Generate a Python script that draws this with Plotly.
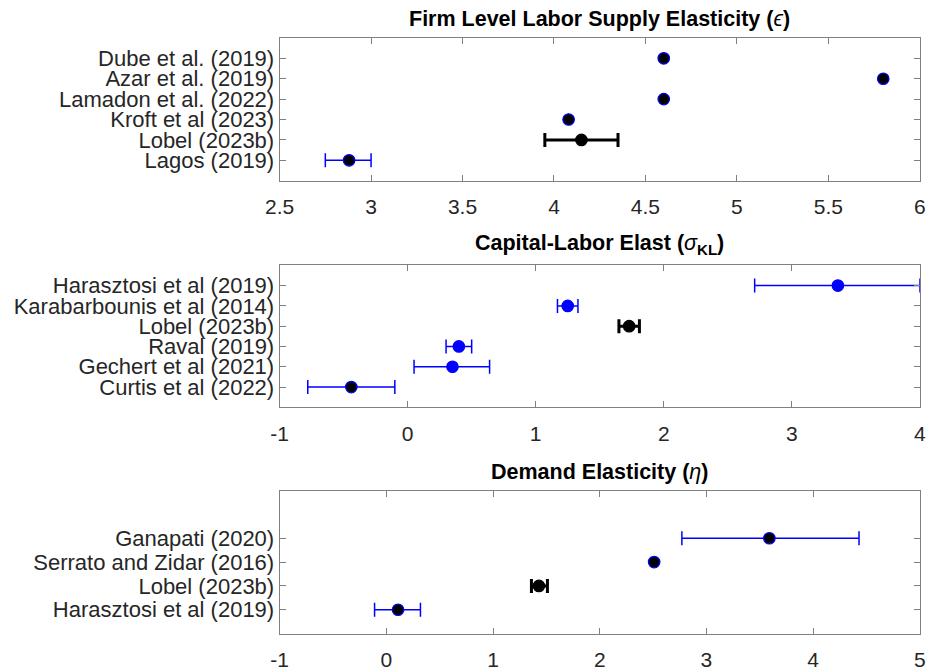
import plotly.graph_objects as go

# ---------------- data ----------------
p1_names = ["Dube et al. (2019)", "Azar et al. (2019)", "Lamadon et al. (2022)",
            "Kroft et al (2023)", "Lobel (2023b)", "Lagos (2019)"]
p1_est = [4.60, 5.80, 4.60, 4.08, 4.15, 2.88]
p1_lo = [None, None, None, None, 3.95, 2.75]
p1_hi = [None, None, None, None, 4.35, 3.00]
p1_style = ["edge", "edge", "edge", "edge", "own", "edge"]

p2_names = ["Harasztosi et al (2019)", "Karabarbounis et al (2014)", "Lobel (2023b)",
            "Raval (2019)", "Gechert et al (2021)", "Curtis et al (2022)"]
p2_est = [3.36, 1.25, 1.73, 0.40, 0.35, -0.44]
p2_lo = [2.71, 1.17, 1.65, 0.30, 0.05, -0.78]
p2_hi = [4.00, 1.33, 1.81, 0.50, 0.64, -0.10]
p2_style = ["blue", "blue", "own", "blue", "blue", "edge"]

p3_names = ["Ganapati (2020)", "Serrato and Zidar (2016)", "Lobel (2023b)", "Harasztosi et al (2019)"]
p3_est = [3.59, 2.51, 1.43, 0.11]
p3_lo = [2.77, None, 1.36, -0.11]
p3_hi = [4.43, None, 1.51, 0.32]
p3_style = ["edge", "edge", "own", "edge"]

x_ticks = [[2.5, 3, 3.5, 4, 4.5, 5, 5.5, 6], [-1, 0, 1, 2, 3, 4], [-1, 0, 1, 2, 3, 4, 5]]
x_ranges = [[2.5, 6], [-1, 4], [-1, 5]]
y_ranges = [[0, 7], [0, 7], [0, 6]]
titles = ["<b>Firm Level Labor Supply Elasticity (</b><i>ϵ</i><b>)</b>",
          "<b>Capital-Labor Elast (</b><i>σ</i><sub><b>KL</b></sub><b>)</b>",
          "<b>Demand Elasticity (</b><i>η</i><b>)</b>"]

# ---------------- layout geometry ----------------
W, H = 932, 671
xl, xr = 270.7, 925.7
panels_px = [(38.3, 182.3), (267.7, 411.0), (495.0, 639.3)]

BLUE = "#0000ff"
FRAME = "#808080"
FONT = "Liberation Sans, Arial, Helvetica, sans-serif"

fig = go.Figure()

panels = [(p1_names, p1_est, p1_lo, p1_hi, p1_style),
          (p2_names, p2_est, p2_lo, p2_hi, p2_style),
          (p3_names, p3_est, p3_lo, p3_hi, p3_style)]

layout_axes = {}
annotations = []
for i, (names, est, lo, hi, style) in enumerate(panels):
    n = len(names)
    pos = list(range(n, 0, -1))
    xa = "x" if i == 0 else f"x{i+1}"
    ya = "y" if i == 0 else f"y{i+1}"
    for j in range(n):
        st = style[j]
        if st == "own":
            mcolor, lcolor, ecolor, eth = "black", "black", "black", 3
        elif st == "blue":
            mcolor, lcolor, ecolor, eth = BLUE, BLUE, BLUE, 1.5
        else:
            mcolor, lcolor, ecolor, eth = "black", BLUE, BLUE, 1.5
        err = dict(visible=False)
        if lo[j] is not None:
            err = dict(type="data", symmetric=False,
                       array=[hi[j] - est[j]], arrayminus=[est[j] - lo[j]],
                       color=ecolor, thickness=eth, width=7)
        fig.add_trace(go.Scatter(
            x=[est[j]], y=[pos[j]], mode="markers", xaxis=xa, yaxis=ya,
            marker=dict(size=11.5, color=mcolor, line=dict(color=lcolor, width=1.2)),
            error_x=err, showlegend=False, cliponaxis=False))
    top, bot = panels_px[i]
    dom_y = [1 - bot / H, 1 - top / H]
    xkey = "xaxis" if i == 0 else f"xaxis{i+1}"
    ykey = "yaxis" if i == 0 else f"yaxis{i+1}"
    layout_axes[xkey] = dict(
        domain=[xl / W, xr / W], range=x_ranges[i], tickvals=x_ticks[i],
        ticktext=["%g" % v for v in x_ticks[i]],
        anchor=ya, showline=True, linecolor=FRAME, linewidth=1, mirror="ticks",
        ticks="inside", ticklen=6, tickcolor=FRAME, showgrid=False, zeroline=False,
        tickfont=dict(family=FONT, size=21, color="#262626"), ticklabelstandoff=7)
    layout_axes[ykey] = dict(
        domain=dom_y, range=y_ranges[i], tickvals=pos, ticktext=names,
        anchor=xa, showline=True, linecolor=FRAME, linewidth=1, mirror="ticks",
        ticks="inside", ticklen=6, tickcolor=FRAME, showgrid=False, zeroline=False,
        tickfont=dict(family=FONT, size=22, color="#262626"))
    annotations.append(dict(
        text=titles[i], xref="paper", yref="paper",
        x=(xl + xr) / 2 / W, y=1 - (top - 5) / H, xanchor="center", yanchor="bottom",
        showarrow=False, font=dict(family=FONT, size=21.5, color="black")))

fig.update_layout(
    width=W, height=H, margin=dict(l=0, r=0, t=0, b=0),
    paper_bgcolor="white", plot_bgcolor="white",
    annotations=annotations, **layout_axes)

fig.write_html("out.html",
               post_script="document.body.style.margin='0';document.body.style.overflow='hidden';")
